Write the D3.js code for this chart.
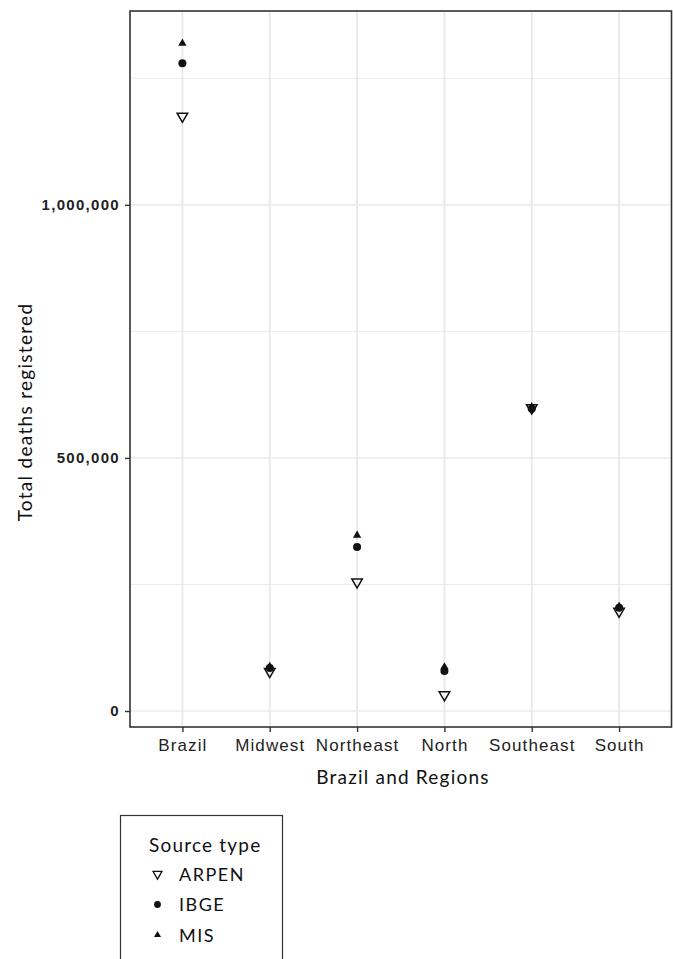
<!DOCTYPE html>
<html>
<head>
<meta charset="utf-8">
<script src="https://cdn.jsdelivr.net/npm/d3@7"></script>
<style>
  body { margin: 0; background: #fff; }
  svg { display: block; font-family: Lato, "Open Sans", sans-serif; }
</style>
</head>
<body>
<svg id="chart" width="673" height="959"></svg>
<script>
// categories and series
const regions = ["Brazil", "Midwest", "Northeast", "North", "Southeast", "South"];
const sources = ["ARPEN", "IBGE", "MIS"];
const arpen = [1175000, 78000, 255000, 32000, 599000, 197000];
const ibge = [1280000, 85000, 324000, 79000, 597000, 204000];
const mis = [1319000, 88000, 347000, 87000, 601000, 207000];
const yTicks = [0, 500000, 1000000];
const yMinor = [250000, 750000, 1250000];

const svg = d3.select("#chart");
const margin = { top: 11, right: 1.5, bottom: 232, left: 130 };
const W = 673, H = 959;
const plotW = W - margin.left - margin.right;
const plotH = H - margin.top - margin.bottom;

const x = d3.scalePoint().domain(regions).range([0, plotW]).padding(0.6);
const y = d3.scaleLinear().domain([-31600, 1383000]).range([plotH, 0]);

const g = svg.append("g").attr("transform", `translate(${margin.left},${margin.top})`);

// grid
g.selectAll(".minor").data(yMinor).join("line")
  .attr("x1", 0).attr("x2", plotW)
  .attr("y1", d => y(d)).attr("y2", d => y(d))
  .attr("stroke", "#ebebeb").attr("stroke-width", 1);
g.selectAll(".major").data(yTicks).join("line")
  .attr("x1", 0).attr("x2", plotW)
  .attr("y1", d => y(d)).attr("y2", d => y(d))
  .attr("stroke", "#ebebeb").attr("stroke-width", 1.6);
g.selectAll(".vgrid").data(regions).join("line")
  .attr("x1", d => x(d)).attr("x2", d => x(d))
  .attr("y1", 0).attr("y2", plotH)
  .attr("stroke", "#e8e8e8").attr("stroke-width", 1.8);

// axes
const fmt = d3.format(",");
const yAxis = g.append("g").call(d3.axisLeft(y).tickValues(yTicks).tickFormat(fmt).tickSize(5).tickPadding(5));
const xAxis = g.append("g").attr("transform", `translate(0,${plotH})`)
  .call(d3.axisBottom(x).tickSize(5).tickPadding(7));
[yAxis, xAxis].forEach(a => {
  a.select(".domain").remove();
  a.selectAll(".tick line").attr("stroke", "#333").attr("stroke-width", 1.4);
  a.selectAll(".tick text").attr("fill", "#222");
});
yAxis.selectAll(".tick text")
  .style("font-size", "15px").style("font-weight", "600").style("letter-spacing", "1.3px");
xAxis.selectAll(".tick text")
  .style("font-size", "17px").style("letter-spacing", "1.1px");

// points
const tri = d3.symbol().type(d3.symbolTriangle);
const series = [
  { name: "ARPEN", values: arpen },
  { name: "IBGE", values: ibge },
  { name: "MIS", values: mis }
];
function drawShape(sel, name) {
  if (name === "ARPEN") {
    sel.append("path").attr("d", tri.size(48)())
      .attr("transform", "rotate(180)")
      .attr("fill", "none").attr("stroke", "#111").attr("stroke-width", 1.5);
  } else if (name === "IBGE") {
    sel.append("circle").attr("r", 4).attr("fill", "#111");
  } else {
    sel.append("path").attr("d", tri.size(30)()).attr("fill", "#111");
  }
}
series.forEach(s => {
  s.values.forEach((v, i) => {
    const p = g.append("g").attr("transform", `translate(${x(regions[i])},${y(v)})`);
    drawShape(p, s.name);
  });
});

// panel border
g.append("rect").attr("width", plotW).attr("height", plotH)
  .attr("fill", "none").attr("stroke", "#333").attr("stroke-width", 1.6);

// axis titles
svg.append("text").attr("x", 403).attr("y", 784)
  .attr("text-anchor", "middle").style("font-size", "19px").style("letter-spacing", "1.2px")
  .attr("fill", "#111").text("Brazil and Regions");
svg.append("text").attr("transform", "translate(32,412) rotate(-90)")
  .attr("text-anchor", "middle").style("font-size", "19px").style("letter-spacing", "1.3px")
  .attr("fill", "#111").text("Total deaths registered");

// legend
const lg = svg.append("g").attr("transform", "translate(120.5,815.5)");
lg.append("rect").attr("width", 162).attr("height", 160)
  .attr("fill", "#fff").attr("stroke", "#333").attr("stroke-width", 1.2);
lg.append("text").attr("x", 28.5).attr("y", 36).style("font-size", "19px")
  .style("letter-spacing", "1.2px").attr("fill", "#111").text("Source type");
sources.forEach((s, i) => {
  const row = lg.append("g").attr("transform", `translate(0,${58.5 + i * 30.5})`);
  const sym = row.append("g").attr("transform", "translate(37,0) scale(0.85)");
  drawShape(sym, s);
  row.append("text").attr("x", 58.5).attr("y", 6.5).style("font-size", "18px")
    .style("letter-spacing", "1.5px").attr("fill", "#111").text(s);
});
</script>
</body>
</html>
